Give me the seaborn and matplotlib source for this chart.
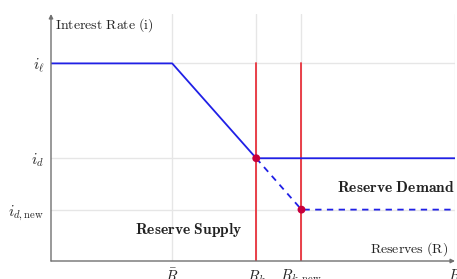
import matplotlib
matplotlib.use("Agg")
import matplotlib.pyplot as plt
import seaborn as sns
import pandas as pd

sns.set_theme(style="white")
plt.rcParams['mathtext.fontset'] = 'cm'
plt.rcParams['font.family'] = ['DejaVu Serif']

# x positions (reserves)
R_bar, R_k, R_knew, R_max = 3.0, 5.08, 6.2, 10.0
# y positions (rates)
i_ell, i_d, i_dnew = 4.0, 2.08, 1.04

x_ticks = [R_bar, R_k, R_knew, R_max]
x_labels = [r"$\bar{R}$", r"$R_k$", r"$R_{k,\mathrm{new}}$", r"$R$"]
y_ticks = [i_dnew, i_d, i_ell]
y_labels = [r"$i_{d,\mathrm{new}}$", r"$i_d$", r"$i_\ell$"]

supply_old = pd.DataFrame({"R": [0, R_bar, R_k, R_max], "i": [i_ell, i_ell, i_d, i_d]})
supply_new = pd.DataFrame({"R": [R_k, R_knew, R_max], "i": [i_d, i_dnew, i_dnew]})
points = pd.DataFrame({"R": [R_k, R_knew], "i": [i_d, i_dnew]})

fig = plt.figure(figsize=(4.57, 2.79), dpi=100)
ax = fig.add_axes([51/457, 18/279, 404/457, 247/279])
ax.set_xlim(0, 10.0)
ax.set_ylim(0, 5.0)

grid_c = "#e6e6e6"
for x in x_ticks:
    ax.axvline(x, color=grid_c, lw=1.0, zorder=0)
for y in y_ticks:
    ax.axhline(y, color=grid_c, lw=1.0, zorder=0)

# red vertical lines
for x in [R_k, R_knew]:
    sns.lineplot(x=[x, x], y=[0, i_ell], ax=ax, color="#e8323c", lw=1.3,
                 sort=False, estimator=None, zorder=2)

sns.lineplot(data=supply_old, x="R", y="i", ax=ax, color="#2020e6", lw=1.3,
             sort=False, estimator=None, zorder=3)
sns.lineplot(data=supply_new, x="R", y="i", ax=ax, color="#2020e6", lw=1.3,
             sort=False, estimator=None, zorder=3, linestyle=(0, (3.5, 3)))
sns.scatterplot(data=points, x="R", y="i", ax=ax, color="#c8003c", s=32,
                edgecolor="none", zorder=4)

for s in ax.spines.values():
    s.set_visible(False)
axc = "#707070"
ax.annotate("", xy=(1.0, 0), xytext=(0, 0), xycoords="axes fraction",
            arrowprops=dict(arrowstyle="-|>", color=axc, lw=1.0,
                            mutation_scale=6, shrinkA=0, shrinkB=0))
ax.annotate("", xy=(0, 1.0), xytext=(0, 0), xycoords="axes fraction",
            arrowprops=dict(arrowstyle="-|>", color=axc, lw=1.0,
                            mutation_scale=6, shrinkA=0, shrinkB=0))

ax.set_xticks(x_ticks)
ax.set_xticklabels(x_labels, fontsize=11)
ax.set_yticks(y_ticks)
ax.set_yticklabels(y_labels, fontsize=11)
ax.tick_params(axis="both", length=3, color=grid_c, pad=2)
ax.set_xlabel("")
ax.set_ylabel("")

ax.text(0.1, 4.78, r"$\mathrm{Interest\ Rate\ (i)}$", fontsize=10, ha="left", va="center", color="#222222")
ax.text(9.83, 0.24, r"$\mathrm{Reserves\ (R)}$", fontsize=10, ha="right", va="center", color="#222222")
ax.text(3.42, 0.63, r"$\mathbf{Reserve\ Supply}$", fontsize=11.2, ha="center", va="center", color="#222222")
ax.text(8.53, 1.48, r"$\mathbf{Reserve\ Demand}$", fontsize=11.2, ha="center", va="center", color="#222222")

fig.savefig("out.png", dpi=100)
